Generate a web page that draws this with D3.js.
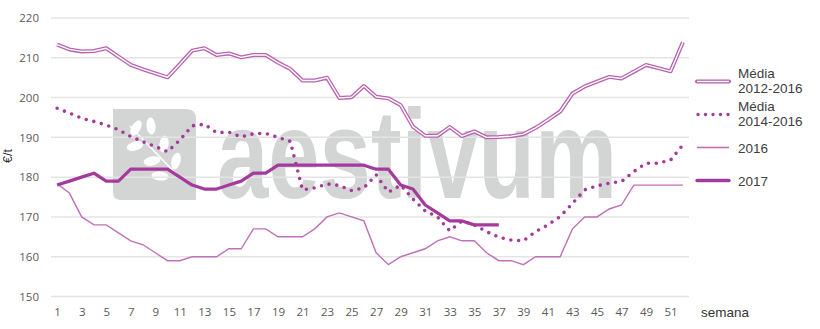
<!DOCTYPE html>
<html><head><meta charset="utf-8">
<script src="https://cdn.jsdelivr.net/npm/d3@7"></script>
<style>html,body{margin:0;padding:0;background:#fff;}svg{display:block;}</style>
</head><body>
<svg id="chart" width="820" height="329"></svg>
<script>
const weeks = d3.range(1, 53);
const media1216 = [213.3,212.1,211.6,211.7,212.4,210.3,208.2,207.1,206.1,205.1,208.4,211.8,212.4,210.7,211.1,210.1,210.7,210.7,208.8,207.2,204.3,204.3,205.0,199.9,200.1,202.9,200.2,199.8,198.1,192.7,190.4,190.4,192.6,190.3,191.5,190.0,190.1,190.3,190.8,192.4,194.4,196.5,201.0,202.8,204.0,205.2,204.8,206.5,208.2,207.4,206.6,213.9];
const media1416 = [197.3,196.1,194.8,194.0,193.1,191.9,190.2,188.9,187.7,186.4,189.3,192.9,193.3,191.2,191.3,190.1,190.9,191.0,190.0,189.0,176.8,177.3,178.3,177.9,176.6,177.3,180.6,176.2,178.0,174.5,171.5,170.0,166.5,169.0,168.0,166.3,164.9,164.2,164.0,166.3,168.0,170.1,173.4,176.8,177.8,178.5,178.9,181.4,183.5,183.5,184.3,188.1];
const y2016 = [178.3,176,170,168,168,166,164,163,161,159,159,160,160,160,162,162,167,167,165,165,165,167,170,171,170,169,161,158,160,161,162,164,165,164,164,161,159,159,158,160,160,160,167,170,170,172,173,178,178,178,178,178];
const y2017 = [178,179,180,181,179,179,182,182,182,182,180,178,177,177,178,179,181,181,183,183,183,183,183,183,183,183,182,182,178,177,173,171,169,169,168,168,168];
const yTicks = [150,160,170,180,190,200,210,220];
const xTicks = d3.range(1, 53, 2);
const seriesNames = [["Média","2012-2016"],["Média","2014-2016"],["2016"],["2017"]];
const yLabel = "€/t";
const xLabel = "semana";
const watermarkText = "aestivum";

const svg = d3.select("#chart");
const x = d3.scaleLinear().domain([0.5, 52.5]).range([51, 689]);
const y = d3.scaleLinear().domain([150, 220]).range([296.5, 18]);

// watermark
const wm = svg.append("g");
wm.append("path")
  .attr("d", "M113,109 H186 Q196,109 196,119 V200 H121 Q113,200 113,192 Z")
  .attr("fill", "#d3d5d4");
const leaf = wm.append("g").attr("fill", "#fff");
leaf.append("line").attr("x1",130).attr("y1",126).attr("x2",182).attr("y2",180)
  .attr("stroke","#fff").attr("stroke-width",1.6);
[[136,128,-60],[151,126,-95],[135,146,-15],[164,144,-80],[152,161,-10],[176,161,-75],[160,176,5]].forEach(p=>{
  leaf.append("ellipse").attr("cx",p[0]).attr("cy",p[1]).attr("rx",8.5).attr("ry",4.5)
    .attr("transform",`rotate(${p[2]},${p[0]},${p[1]})`);
});
const wmt = wm.append("text").attr("x", 0).attr("y", 0)
  .attr("font-family","Liberation Sans, Arial, sans-serif").attr("font-weight","bold")
  .attr("font-size", 126).attr("fill","#d3d5d4")
  .text(watermarkText);
const natW = wmt.node().getComputedTextLength() || 546;
wmt.attr("transform", `translate(217,198) scale(${400/natW},1)`);

// grid
svg.append("g").selectAll("line").data(yTicks).join("line")
  .attr("x1", x(0.5)).attr("x2", x(52.5))
  .attr("y1", d=>y(d)).attr("y2", d=>y(d))
  .attr("stroke", "#e4e4e4").attr("stroke-width", 1.5);

// axes labels
const yAxis = d3.axisLeft(y).tickValues(yTicks).tickSize(0).tickPadding(0);
const gy = svg.append("g").attr("transform","translate(39,0)").call(yAxis);
gy.select(".domain").remove();
gy.selectAll("text").attr("font-family","Open Sans, sans-serif").attr("font-size",11.5).attr("fill","#595959");

const xAxis = d3.axisBottom(x).tickValues(xTicks).tickSize(0).tickPadding(0).tickFormat(d3.format("d"));
const gx = svg.append("g").attr("transform","translate(0,308)").call(xAxis);
gx.select(".domain").remove();
gx.selectAll("text").attr("font-family","Open Sans, sans-serif").attr("font-size",11.5).attr("fill","#595959");

svg.append("text").attr("transform","translate(12,156) rotate(-90)").attr("text-anchor","middle")
  .attr("font-family","Liberation Sans, Arial, sans-serif").attr("font-size",12.5).attr("fill","#333").text(yLabel);
svg.append("text").attr("x",701).attr("y",317)
  .attr("font-family","Liberation Sans, Arial, sans-serif").attr("font-size",13.5).attr("fill","#333").text(xLabel);

const line = d3.line().x((d,i)=>x(weeks[i])).y(d=>y(d));
const cDouble = "#b862b0", cThin = "#c170ba", cDark = "#a53a9d";

// series
svg.append("path").datum(y2016).attr("d", line).attr("fill","none").attr("stroke",cThin).attr("stroke-width",1.4);
svg.append("path").datum(media1216).attr("d", line).attr("fill","none").attr("stroke",cDouble).attr("stroke-width",4).attr("stroke-linejoin","round");
svg.append("path").datum(media1216).attr("d", line).attr("fill","none").attr("stroke","#fff").attr("stroke-width",1.4).attr("stroke-linejoin","round");
svg.append("path").datum(media1416).attr("d", line).attr("fill","none").attr("stroke",cDark).attr("stroke-width",3.6)
  .attr("stroke-linecap","round").attr("stroke-dasharray","0 7.8");
svg.append("path").datum(y2017).attr("d", line).attr("fill","none").attr("stroke",cDark).attr("stroke-width",3.2).attr("stroke-linejoin","round");

// legend
const lg = svg.append("g").attr("font-family","Liberation Sans, Arial, sans-serif").attr("font-size",13.5).attr("fill","#404040");
const lx1 = 697, lx2 = 729, tx = 738;
const ly = [81.5, 114.5, 147.5, 180.5];
lg.append("line").attr("x1",lx1).attr("x2",lx2).attr("y1",ly[0]).attr("y2",ly[0]).attr("stroke",cDouble).attr("stroke-width",4).attr("stroke-linecap","round");
lg.append("line").attr("x1",lx1).attr("x2",lx2).attr("y1",ly[0]).attr("y2",ly[0]).attr("stroke","#fff").attr("stroke-width",1.4);
lg.append("line").attr("x1",lx1+1).attr("x2",lx2).attr("y1",ly[1]).attr("y2",ly[1]).attr("stroke",cDark).attr("stroke-width",3.4).attr("stroke-linecap","round").attr("stroke-dasharray","0 7.5");
lg.append("line").attr("x1",lx1).attr("x2",lx2).attr("y1",ly[2]).attr("y2",ly[2]).attr("stroke",cThin).attr("stroke-width",1.6);
lg.append("line").attr("x1",lx1).attr("x2",lx2).attr("y1",ly[3]).attr("y2",ly[3]).attr("stroke",cDark).attr("stroke-width",3.4).attr("stroke-linecap","round");
seriesNames.forEach((nm,i)=>{
  if (nm.length === 2) {
    lg.append("text").attr("x",tx).attr("y",ly[i]-4).text(nm[0]);
    lg.append("text").attr("x",tx).attr("y",ly[i]+11).text(nm[1]);
  } else {
    lg.append("text").attr("x",tx).attr("y",ly[i]+5).text(nm[0]);
  }
});
</script>
</body></html>
